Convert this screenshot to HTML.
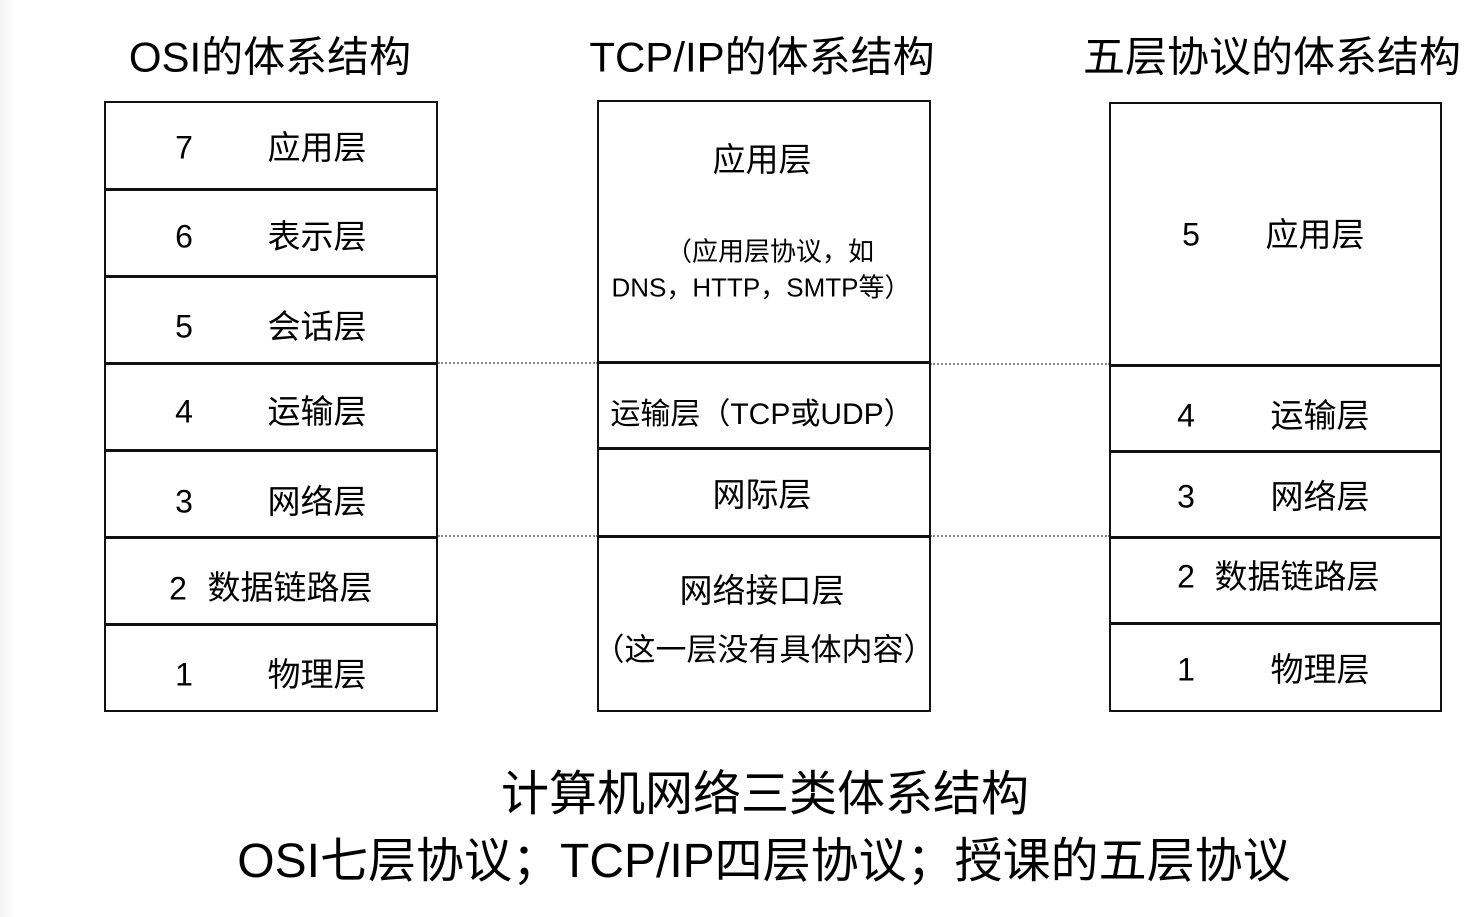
<!DOCTYPE html>
<html><head><meta charset="utf-8"><style>
body{margin:0;width:1482px;height:917px;background:#fff;position:relative;overflow:hidden;font-family:"Liberation Sans","Noto Sans CJK SC",sans-serif;color:#000}
.bg{position:absolute;left:0;top:0;width:14px;height:917px;background:linear-gradient(to right,#f3f3f3,#fff)}
.box{position:absolute;border:2.5px solid #111;box-sizing:border-box}
.h{position:absolute;height:2.5px;background:#111}
.d{position:absolute;height:0;border-top:2px dotted #888}
.t{position:absolute;transform:translate(-50%,-50%);white-space:nowrap}
.f40{font-size:42px}.f30{font-size:32px}.c{font-size:33px}.f26{font-size:26px}.f44{font-size:48px}
</style></head><body>
<div class="bg"></div>
<div class="t f40" style="left:270px;top:54px">OSI的体系结构</div>
<div class="t f40" style="left:762px;top:54px">TCP/IP的体系结构</div>
<div class="t f40" style="left:1272px;top:54px">五层协议的体系结构</div>

<div class="box" style="left:104px;top:101px;width:334px;height:611px"></div>
<div class="h" style="left:104px;top:188px;width:334px"></div>
<div class="h" style="left:104px;top:275px;width:334px"></div>
<div class="h" style="left:104px;top:362px;width:334px"></div>
<div class="h" style="left:104px;top:449px;width:334px"></div>
<div class="h" style="left:104px;top:536px;width:334px"></div>
<div class="h" style="left:104px;top:623px;width:334px"></div>
<div class="t f30" style="left:184px;top:148px">7</div><div class="t c" style="left:317px;top:145px">应用层</div>
<div class="t f30" style="left:184px;top:237px">6</div><div class="t c" style="left:317px;top:234px">表示层</div>
<div class="t f30" style="left:184px;top:327px">5</div><div class="t c" style="left:317px;top:324px">会话层</div>
<div class="t f30" style="left:184px;top:412px">4</div><div class="t c" style="left:317px;top:409px">运输层</div>
<div class="t f30" style="left:184px;top:502px">3</div><div class="t c" style="left:317px;top:499px">网络层</div>
<div class="t f30" style="left:178px;top:589px">2</div><div class="t c" style="left:290px;top:585px">数据链路层</div>
<div class="t f30" style="left:184px;top:675px">1</div><div class="t c" style="left:317px;top:672px">物理层</div>

<div class="d" style="left:438px;top:362px;width:160px"></div>
<div class="d" style="left:438px;top:535px;width:160px"></div>
<div class="d" style="left:930px;top:363px;width:180px"></div>
<div class="d" style="left:930px;top:535px;width:180px"></div>

<div class="box" style="left:597px;top:100px;width:334px;height:612px"></div>
<div class="h" style="left:597px;top:361px;width:334px"></div>
<div class="h" style="left:597px;top:447px;width:334px"></div>
<div class="h" style="left:597px;top:535px;width:334px"></div>
<div class="t c" style="left:762px;top:157px">应用层</div>
<div class="t f26" style="left:770px;top:250px">（应用层协议，如</div>
<div class="t f26" style="left:761px;top:286px">DNS，HTTP，SMTP等）</div>
<div class="t" style="left:762px;top:411px;font-size:30px">运输层（TCP或UDP）</div>
<div class="t c" style="left:762px;top:492px">网际层</div>
<div class="t c" style="left:762px;top:588px">网络接口层</div>
<div class="t" style="left:764px;top:647px;font-size:31px">（这一层没有具体内容）</div>

<div class="box" style="left:1109px;top:102px;width:333px;height:610px"></div>
<div class="h" style="left:1109px;top:364px;width:333px"></div>
<div class="h" style="left:1109px;top:450px;width:333px"></div>
<div class="h" style="left:1109px;top:536px;width:333px"></div>
<div class="h" style="left:1109px;top:622px;width:333px"></div>
<div class="t f30" style="left:1191px;top:235px">5</div><div class="t c" style="left:1315px;top:232px">应用层</div>
<div class="t f30" style="left:1186px;top:416px">4</div><div class="t c" style="left:1320px;top:413px">运输层</div>
<div class="t f30" style="left:1186px;top:497px">3</div><div class="t c" style="left:1320px;top:494px">网络层</div>
<div class="t f30" style="left:1186px;top:577px">2</div><div class="t c" style="left:1297px;top:574px">数据链路层</div>
<div class="t f30" style="left:1186px;top:670px">1</div><div class="t c" style="left:1320px;top:667px">物理层</div>

<div class="t f44" style="left:765px;top:789px">计算机网络三类体系结构</div>
<div class="t f44" style="left:764px;top:856px">OSI七层协议；TCP/IP四层协议；授课的五层协议</div>
</body></html>
